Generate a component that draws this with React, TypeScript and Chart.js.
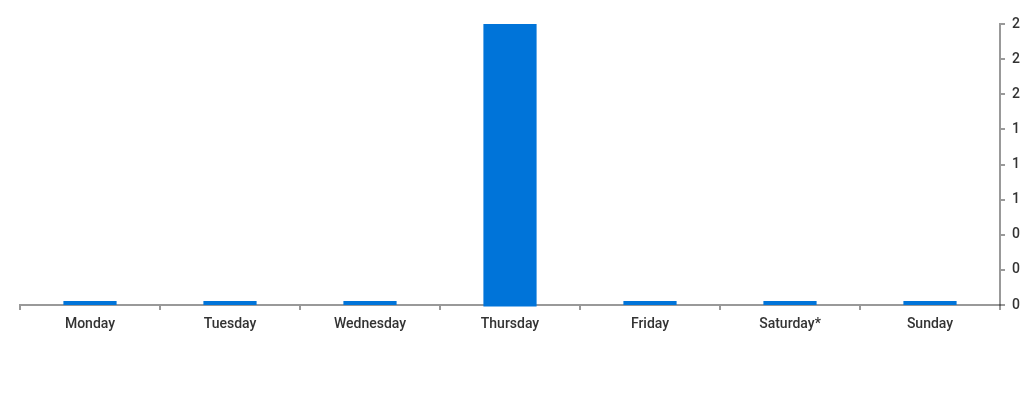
import { useEffect, useRef } from 'react';
import { Chart, type ChartConfiguration, registerables } from 'chart.js';

Chart.register(...registerables);

const days = ['Monday', 'Tuesday', 'Wednesday', 'Thursday', 'Friday', 'Saturday*', 'Sunday'];
const counts = [0, 0, 0, 2, 0, 0, 0];
const yTicks = [0, 0.25, 0.5, 0.75, 1, 1.25, 1.5, 1.75, 2];
const yTickLabels = ['0', '0', '0', '1', '1', '1', '2', '2', '2'];

export default function App() {
    const chartRef = useRef<HTMLCanvasElement>(null);
    const chartInstance = useRef<Chart | null>(null);

    useEffect(() => {
        if (!chartRef.current) return;
        if (chartInstance.current) chartInstance.current.destroy();
        const ctx = chartRef.current.getContext('2d');
        if (!ctx) return;

        const axisColor = 'rgba(0,0,0,0.4)';
        const font = { family: 'Roboto', size: 14, weight: 500 };

        const config: ChartConfiguration = {
            type: 'bar',
            data: {
                labels: days,
                datasets: [
                    {
                        data: counts,
                        backgroundColor: '#0074d9',
                        borderWidth: 0,
                        // bars start a hair under the axis line, like the original
                        base: -0.011,
                        minBarLength: 4,
                        barPercentage: 0.38,
                        categoryPercentage: 1,
                        clip: false,
                    },
                ],
            },
            options: {
                animation: false,
                responsive: true,
                maintainAspectRatio: false,
                layout: { padding: { left: 20, top: 24, right: 0, bottom: 0 } },
                plugins: {
                    legend: { display: false },
                    tooltip: { enabled: false },
                },
                scales: {
                    x: {
                        z: 1,
                        grid: {
                            drawOnChartArea: false,
                            color: axisColor,
                            tickLength: 5,
                            lineWidth: 2,
                        },
                        border: { color: axisColor, width: 2 },
                        ticks: { color: '#333', font, padding: 6, maxRotation: 0 },
                        afterFit: (scale) => {
                            scale.height = 95;
                        },
                    },
                    y: {
                        position: 'right',
                        min: 0,
                        max: 2,
                        grid: {
                            drawOnChartArea: false,
                            color: axisColor,
                            tickLength: 5,
                            lineWidth: 2,
                        },
                        border: { color: axisColor, width: 2 },
                        afterBuildTicks: (scale) => {
                            scale.ticks = yTicks.map((v) => ({ value: v }));
                        },
                        ticks: {
                            color: '#333',
                            font,
                            padding: 7,
                            callback: (_v, i) => yTickLabels[i],
                        },
                        afterFit: (scale) => {
                            scale.width = 24;
                        },
                    },
                },
            },
        };

        chartInstance.current = new Chart(ctx, config);

        return () => {
            if (chartInstance.current) chartInstance.current.destroy();
        };
    }, []);

    return (
        <>
            <style>{'body{margin:0}'}</style>
            <div style={{ width: 1024, height: 400, position: 'relative' }}>
                <canvas ref={chartRef}></canvas>
            </div>
        </>
    );
}
